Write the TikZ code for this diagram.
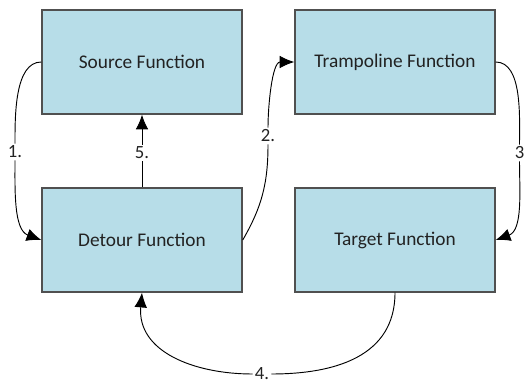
\documentclass[tikz,border=0pt]{standalone}
\usepackage{fontspec}
\setmainfont{Carlito}
\usetikzlibrary{arrows.meta, positioning}
\definecolor{boxFill}{HTML}{B7DDE8}
\definecolor{boxBorder}{HTML}{505050}
\definecolor{labelText}{HTML}{222222}
\tikzset{
    funcBox/.style={rectangle, draw=boxBorder, line width=1.1pt, fill=boxFill, minimum width=150pt, minimum height=78pt, inner sep=0pt, text=labelText, font=\fontsize{14.5}{17}\selectfont},
    stepLabel/.style={fill=white, inner sep=1.5pt, text=labelText, font=\fontsize{14}{16}\selectfont},
    callLine/.style={line width=0.7pt, black},
    callEdge/.style={-{Latex[length=11pt, width=9.5pt]}, line width=0.7pt, black},
}
\newcommand{\drawCall}[5]{
    \draw[callLine] (#1) to[#2] (#3);
    \draw[callEdge] (#3) to[#4] (#5);
}

\begin{document}
\begin{tikzpicture}[x=0.75pt, y=0.75pt]
        \useasboundingbox (0,0) rectangle (524,383);

        \node[funcBox] (src) at (142,321) {Source Function};
        \node[funcBox] (tramp) at (395,321) {Trampoline Function};
        \node[funcBox] (det) at (142,143) {Detour Function};
        \node[funcBox] (tgt) at (395,143) {Target Function};

        \node[stepLabel] (l1) at (15,231) {1.};
        \node[stepLabel] (l2) at (268,247) {2.};
        \node[stepLabel] (l3) at (519.5,230) {3};
        \node[stepLabel] (l4) at (262,9) {4.};
        \node[stepLabel] (l5) at (142,230) {5.};

        \drawCall{src.west}{out=180, in=90, looseness=0.8}{l1}{out=-90, in=160, looseness=0.9}{det.west}
        \drawCall{det.east}{out=60, in=-90}{l2}{out=90, in=180, looseness=0.8}{tramp.west}
        \drawCall{tramp.east}{out=0, in=90, looseness=0.8}{l3}{out=-90, in=20, looseness=0.9}{tgt.east}
        \drawCall{tgt.south}{out=-90, in=0, looseness=1.1}{l4}{out=180, in=-95, looseness=1.1}{det.south}
        \drawCall{det.north}{}{l5}{}{src.south}

    \end{tikzpicture}
\end{document}
